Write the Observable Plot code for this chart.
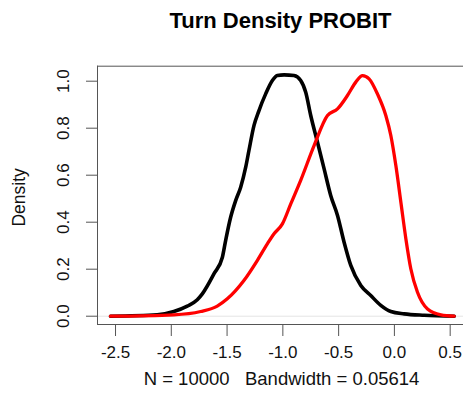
<!DOCTYPE html>
<html>
<head>
<meta charset="utf-8">
<script src="https://cdn.jsdelivr.net/npm/d3@7"></script>
<script src="https://cdn.jsdelivr.net/npm/@observablehq/plot@0.6"></script>
<style>
  html, body { margin: 0; padding: 0; background: #fff; overflow: hidden; }
  svg { display: block; }
</style>
</head>
<body>
<div id="chart"></div>
<script>
const title = "Turn Density PROBIT";
const xLabel = "N = 10000   Bandwidth = 0.05614";
const yLabel = "Density";
const xTicks = [-2.5, -2.0, -1.5, -1.0, -0.5, 0.0, 0.5];
const yTicks = [0.0, 0.2, 0.4, 0.6, 0.8, 1.0];

// black density curve
const blackX = [-2.545, -2.126, -1.977, -1.857, -1.767, -1.722, -1.618, -1.542, -1.513, -1.468, -1.423, -1.378, -1.333, -1.304, -1.259, -1.214, -1.154, -1.094, -1.049, -0.989, -0.9, -0.84, -0.795, -0.75, -0.69, -0.63, -0.571, -0.51, -0.451, -0.391, -0.301, -0.212, -0.122, -0.032, 0.088, 0.267, 0.536];
const blackY = [0.0, 0.006, 0.020, 0.043, 0.070, 0.095, 0.180, 0.251, 0.322, 0.421, 0.492, 0.549, 0.634, 0.705, 0.811, 0.875, 0.946, 1.003, 1.024, 1.027, 1.024, 1.003, 0.953, 0.854, 0.741, 0.627, 0.514, 0.429, 0.315, 0.216, 0.131, 0.088, 0.046, 0.020, 0.010, 0.004, 0.0];

// red density curve
const redX = [-2.545, -1.977, -1.737, -1.588, -1.498, -1.349, -1.228, -1.139, -1.079, -1.004, -0.929, -0.84, -0.72, -0.6, -0.51, -0.421, -0.346, -0.286, -0.227, -0.152, -0.077, -0.032, 0.013, 0.058, 0.103, 0.147, 0.207, 0.297, 0.417, 0.536];
const redY = [0.0, 0.006, 0.020, 0.043, 0.074, 0.152, 0.238, 0.308, 0.351, 0.393, 0.478, 0.578, 0.726, 0.854, 0.882, 0.939, 0.996, 1.024, 1.010, 0.946, 0.854, 0.769, 0.641, 0.485, 0.329, 0.202, 0.102, 0.031, 0.006, 0.0];

const black = blackX.map((x, i) => ({x, y: blackY[i]}));
const red = redX.map((x, i) => ({x, y: redY[i]}));

const font = "'Liberation Sans', Arial, Helvetica, sans-serif";
const fmt = d => d.toFixed(1);

const chart = Plot.plot({
  width: 463,
  height: 416,
  marginLeft: 97,
  marginRight: 0,
  marginTop: 65.7,
  marginBottom: 92,
  style: {fontFamily: font, background: "#fff", color: "#000"},
  x: {domain: [-2.6615, 0.6194]},
  y: {domain: [-0.0353, 1.0638]},
  marks: [
    Plot.ruleY([0], {stroke: "#e4e4e4", strokeWidth: 1}),
    Plot.line(black, {x: "x", y: "y", stroke: "#000", strokeWidth: 3.6, curve: "monotone-x"}),
    Plot.line(red, {x: "x", y: "y", stroke: "#ff0000", strokeWidth: 3.3, curve: "monotone-x"}),
    Plot.frame({anchor: "top", stroke: "#555"}),
    Plot.frame({anchor: "left", stroke: "#555"}),
    Plot.frame({anchor: "bottom", stroke: "#555"}),
    Plot.axisX({ticks: xTicks, tickFormat: fmt, tickSize: 12, tickPadding: 9, fontSize: 17, label: null, stroke: "#555", fill: "#111"}),
    Plot.axisY({ticks: yTicks, tickFormat: fmt, tickSize: 11, label: null, text: null, stroke: "#555"}),
    Plot.text(yTicks, {y: d => d, text: fmt, frameAnchor: "left", textAnchor: "middle", lineAnchor: "middle", rotate: -90, dx: -33.5, fontSize: 17, fill: "#111"}),
    Plot.text([title], {frameAnchor: "top", textAnchor: "middle", lineAnchor: "middle", dy: -45.7, fontSize: 22, fontWeight: "bold", fill: "#000"}),
    Plot.text([xLabel], {frameAnchor: "bottom", textAnchor: "middle", lineAnchor: "middle", dx: 1, dy: 55, fontSize: 18.5, fill: "#111"}),
    Plot.text([yLabel], {frameAnchor: "left", textAnchor: "middle", lineAnchor: "middle", rotate: -90, dx: -78.5, dy: 2, fontSize: 17.5, fill: "#111"})
  ]
});
document.getElementById("chart").append(chart);
</script>
</body>
</html>
